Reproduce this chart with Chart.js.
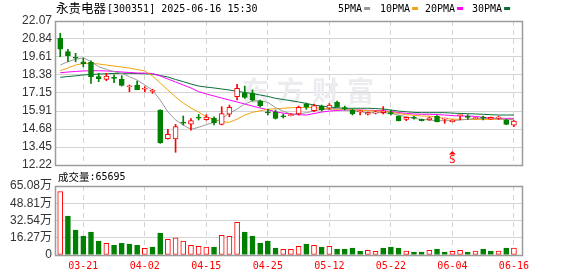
<!DOCTYPE html>
<html>
<head>
<meta charset="utf-8">
<script src="https://cdn.jsdelivr.net/npm/chart.js@4.4.1/dist/chart.umd.min.js"></script>
<style>
  body { margin: 0; background: #fff; }
  #wrap { position: relative; width: 578px; height: 276px; overflow: hidden; }
  canvas { position: absolute; left: 0; }
  #kline { top: 0; }
  #vol { top: 166px; }
</style>
</head>
<body>
<div id="wrap">
  <canvas id="kline" width="578" height="176"></canvas>
  <canvas id="vol" width="578" height="110"></canvas>
</div>
<script>
// trading days shown
const dates = ['03-18','03-19','03-20','03-21','03-24','03-25','03-26','03-27','03-28','03-31',
  '04-01','04-02','04-03','04-07','04-08','04-09','04-10','04-11','04-14','04-15',
  '04-16','04-17','04-18','04-21','04-22','04-23','04-24','04-25','04-28','04-29',
  '04-30','05-06','05-07','05-08','05-09','05-12','05-13','05-14','05-15','05-16',
  '05-19','05-20','05-21','05-22','05-23','05-26','05-27','05-28','05-29','05-30',
  '06-03','06-04','06-05','06-06','06-09','06-10','06-11','06-12','06-13','06-16'];

const openP  = [20.89,19.97,19.58,19.28,19.24,18.26,18.08,18.22,18.08,17.57,17.69,17.40,17.26,15.98,14.02,14.00,15.15,15.02,15.47,15.32,
  15.41,15.00,15.70,16.89,17.12,17.12,16.60,15.86,15.86,15.57,15.60,15.71,16.39,15.93,16.25,16.10,16.51,16.12,15.98,15.86,
  15.69,15.77,15.80,15.77,15.57,15.34,15.48,15.34,15.30,15.57,15.36,15.18,15.60,15.52,15.39,15.48,15.36,15.43,15.30,14.95];
const highP  = [21.23,20.13,19.86,19.52,19.35,18.49,18.49,18.38,18.33,17.69,17.96,17.58,17.40,16.00,14.66,15.00,15.57,15.39,15.68,15.66,
  15.52,16.21,16.32,17.74,17.62,17.35,16.66,16.05,15.98,15.71,15.74,16.25,16.46,16.39,16.32,16.43,16.60,16.25,16.05,15.93,
  15.84,15.91,16.21,15.98,15.60,15.50,15.55,15.36,15.50,15.60,15.43,15.32,15.66,15.66,15.48,15.57,15.50,15.57,15.34,15.25];
const lowP   = [19.63,19.28,19.28,18.94,17.80,17.92,17.99,17.85,17.62,17.23,17.37,17.23,17.12,13.70,13.98,13.09,14.96,14.61,15.30,15.28,
  14.96,14.96,15.52,16.67,16.78,16.60,16.19,15.64,15.36,15.43,15.57,15.64,16.03,15.86,15.91,16.03,16.17,15.98,15.64,15.64,
  15.64,15.71,15.71,15.64,15.23,15.25,15.36,15.23,15.27,15.16,15.07,15.16,15.30,15.34,15.36,15.30,15.34,15.34,14.98,14.84];
const closeP = [20.15,19.70,19.52,19.15,18.26,18.12,18.31,18.15,17.67,17.62,17.37,17.44,17.30,13.74,14.32,14.84,15.08,15.25,15.43,15.50,
  15.11,15.73,16.17,17.46,16.85,16.66,16.28,15.79,15.41,15.52,15.67,16.17,16.17,16.28,15.98,16.32,16.21,16.08,15.71,15.91,
  15.80,15.86,15.93,15.73,15.25,15.48,15.43,15.25,15.45,15.18,15.41,15.30,15.64,15.48,15.45,15.43,15.48,15.48,15.00,15.23];

const ma5  = [19.06,19.29,19.45,19.56,19.29,18.94,18.76,18.60,18.49,18.26,18.03,17.69,17.35,16.66,15.86,15.30,14.95,14.66,14.80,14.98,
  15.14,15.41,15.75,16.05,16.40,16.60,16.62,16.50,16.15,15.90,15.71,15.71,15.80,15.91,16.03,16.03,16.10,16.03,15.93,15.86,
  15.80,15.80,15.80,15.75,15.64,15.52,15.41,15.34,15.30,15.25,15.25,15.25,15.30,15.34,15.41,15.41,15.41,15.36,15.34,15.30];
const ma10 = [18.67,18.85,19.06,19.16,19.18,19.13,19.06,18.99,18.92,18.85,18.75,18.65,18.31,17.83,17.35,16.87,16.46,16.12,15.84,15.52,
  15.34,15.18,15.14,15.36,15.64,15.82,15.93,16.03,16.07,16.10,16.14,16.16,16.16,16.14,16.10,16.05,16.03,16.03,15.98,15.98,
  15.93,15.91,15.89,15.82,15.75,15.66,15.62,15.57,15.57,15.48,15.41,15.36,15.34,15.34,15.34,15.34,15.34,15.36,15.34,15.34];
const ma20 = [18.53,18.58,18.62,18.65,18.67,18.67,18.65,18.62,18.58,18.55,18.51,18.51,18.48,18.31,18.10,17.90,17.69,17.49,17.23,17.08,
  16.94,16.80,16.66,16.53,16.39,16.25,16.12,16.00,15.86,15.77,15.71,15.66,15.64,15.74,15.84,15.91,15.95,15.98,15.98,15.98,
  15.96,15.95,15.93,15.88,15.81,15.75,15.71,15.69,15.69,15.67,15.64,15.60,15.57,15.57,15.54,15.48,15.43,15.41,15.41,15.41];
const ma30 = [18.22,18.27,18.32,18.38,18.41,18.44,18.46,18.48,18.49,18.49,18.48,18.46,18.44,18.34,18.24,18.07,17.92,17.76,17.62,17.55,
  17.49,17.42,17.35,17.26,17.18,17.11,17.01,16.91,16.78,16.70,16.62,16.53,16.43,16.32,16.25,16.18,16.14,16.10,16.10,16.10,
  16.10,16.08,16.05,15.98,15.91,15.86,15.82,15.80,15.80,15.80,15.80,15.77,15.75,15.73,15.71,15.69,15.66,15.64,15.64,15.64];

// volume in lots, 1 = up day (red hollow), 0 = down day (green)
const volume = [597000,368000,236000,179000,217000,132000,110000,91000,110000,104000,91000,63000,75000,207000,148000,163000,132000,92000,82000,75000,
  75000,186000,176000,308000,217000,179000,113000,132000,66000,53000,53000,82000,104000,91000,75000,82000,57000,57000,66000,38000,
  44000,35000,66000,75000,66000,38000,28000,28000,44000,57000,28000,35000,44000,28000,38000,57000,38000,38000,66000,65695];
const volUp = [1,0,0,0,0,0,1,0,0,0,0,1,0,0,1,1,1,1,1,1,
  0,1,1,1,0,0,0,0,0,1,1,1,0,1,0,1,0,0,0,0,
  1,1,0,0,0,1,0,0,1,0,0,1,1,0,1,0,0,1,0,1];

const dateTicks = ['03-21','04-02','04-15','04-25','05-12','05-22','06-04','06-16'];
const priceTicks = ['22.07','20.84','19.61','18.38','17.15','15.91','14.68','13.45','12.22'];
const volTickVals = [0, 162700, 325400, 488100, 650800];
const volTickText = ['0','16.27万','32.54万','48.81万','65.08万'];
const maNames = ['5PMA','10PMA','20PMA','30PMA'];
const maColors = ['#9a9a9a','#f0a30a','#ff00ff','#0b6f3a'];
const markIdx = dates.indexOf('06-04');

const RED = '#ff0000', GREEN = '#008000';
const tickIdx = dateTicks.map(d => dates.indexOf(d));

function xScaleOpts(showLabels) {
  return {
    type: 'linear', min: -0.68, max: 60.05, offset: false,
    afterBuildTicks: s => { s.ticks = tickIdx.map(v => ({ value: v })); },
    grid: { color: '#d4d4d4', lineWidth: 1, drawTicks: false, offset: false },
    border: { display: false, dash: [5, 4] },
    ticks: {
      display: showLabels, autoSkip: false, maxRotation: 0, padding: 5,
      color: RED, font: { family: 'DejaVu Sans Mono', size: 10 },
      callback: v => dates[v]
    },
    afterFit: s => { s.height = showLabels ? 21 : 0; }
  };
}

const frame = {
  id: 'frame',
  afterDraw(chart) {
    const { ctx, chartArea: a } = chart;
    ctx.save();
    ctx.strokeStyle = '#9c9c9c';
    ctx.lineWidth = 1.5;
    ctx.strokeRect(a.left + 0.5, a.top + 0.5, a.right - a.left, a.bottom - a.top);
    ctx.restore();
  }
};

const klineDeco = {
  id: 'klineDeco',
  beforeDatasetsDraw(chart) {
    const ctx = chart.ctx;
    ctx.save();
    ctx.fillStyle = '#ececf0';
    ctx.font = 'bold 27px "Noto Sans CJK SC"';
    ctx.textBaseline = 'middle';
    const wm = '东方财富';
    for (let k = 0; k < wm.length; k++) ctx.fillText(wm[k], 242 + k * 35, 91);
    ctx.restore();
  },
  afterDraw(chart) {
    const ctx = chart.ctx;
    ctx.save();
    ctx.textBaseline = 'middle';
    ctx.fillStyle = '#000';
    ctx.font = '12.5px "Noto Sans CJK SC"';
    ctx.fillText('永贵电器', 56, 8.5);
    ctx.font = '10px "DejaVu Sans Mono"';
    ctx.fillText('[300351] 2025-06-16 15:30', 107, 9);

    // MA legend
    const lx = [338, 380, 425, 472];
    maNames.forEach((n, k) => {
      ctx.fillStyle = '#000';
      ctx.fillText(n, lx[k], 9);
      const w = ctx.measureText(n).width;
      ctx.fillStyle = maColors[k];
      ctx.fillRect(lx[k] + w + 2, 7, 6, 3);
    });

    // event marker
    const x = chart.scales.x.getPixelForValue(markIdx);
    const y0 = chart.chartArea.bottom;
    ctx.fillStyle = RED;
    ctx.strokeStyle = RED;
    ctx.beginPath();
    ctx.moveTo(x, y0 - 14);
    ctx.lineTo(x + 3.5, y0 - 10.5);
    ctx.lineTo(x - 3.5, y0 - 10.5);
    ctx.closePath();
    ctx.fill();
    ctx.font = '11px "DejaVu Sans Mono"';
    ctx.textAlign = 'center';
    ctx.fillText('S', x, y0 - 4.5);
    ctx.restore();
  }
};

const volDeco = {
  id: 'volDeco',
  afterDraw(chart) {
    const ctx = chart.ctx;
    ctx.save();
    ctx.textBaseline = 'middle';
    ctx.fillStyle = '#000';
    ctx.font = '10.5px "Noto Sans CJK SC"';
    ctx.fillText('成交量', 58, 11);
    const w = ctx.measureText('成交量').width;
    ctx.font = '10px "DejaVu Sans Mono"';
    ctx.fillText(':' + volume[volume.length - 1], 58 + w, 11.5);
    ctx.restore();
  }
};

const isUp = i => closeP[i] >= openP[i];

new Chart(document.getElementById('kline'), {
  type: 'bar',
  data: {
    datasets: [
      {
        type: 'bar', order: 1, grouped: false,
        data: dates.map((d, i) => ({ x: i, y: [openP[i], closeP[i]] })),
        barThickness: 5, minBarLength: 1, borderWidth: 1, borderSkipped: false,
        backgroundColor: dates.map((d, i) => isUp(i) ? '#ffffff' : GREEN),
        borderColor: dates.map((d, i) => isUp(i) ? RED : GREEN)
      },
      {
        type: 'bar', order: 2, grouped: false,
        data: dates.map((d, i) => ({ x: i, y: [lowP[i], highP[i]] })),
        barThickness: 1, minBarLength: 1, borderWidth: 0,
        backgroundColor: dates.map((d, i) => isUp(i) ? RED : GREEN)
      },
      ...[ma5, ma10, ma20, ma30].map((arr, k) => ({
        type: 'line', order: 3 + k,
        data: arr.map((v, i) => ({ x: i, y: v })),
        borderColor: maColors[k], borderWidth: 1, pointRadius: 0, tension: 0
      }))
    ]
  },
  options: {
    responsive: false, animation: false, devicePixelRatio: 1,
    layout: { padding: { top: 21, right: 56, bottom: 11, left: 0 } },
    plugins: { legend: { display: false }, tooltip: { enabled: false } },
    scales: {
      x: xScaleOpts(false),
      y: {
        min: 12.22, max: 22.07,
        afterBuildTicks: s => { s.ticks = priceTicks.map(t => ({ value: parseFloat(t) })).reverse(); },
        afterFit: s => { s.width = 55; },
        grid: { color: '#d4d4d4', drawTicks: false },
        border: { display: false },
        ticks: {
          autoSkip: false, padding: 3, color: '#333',
          font: { family: 'Liberation Sans', size: 12 },
          callback: v => priceTicks.find(t => Math.abs(parseFloat(t) - v) < 0.001)
        }
      }
    }
  },
  plugins: [klineDeco, frame]
});

new Chart(document.getElementById('vol'), {
  type: 'bar',
  data: {
    datasets: [{
      grouped: false,
      data: volume.map((v, i) => ({ x: i, y: v })),
      barThickness: 5, borderWidth: 1, borderSkipped: false,
      backgroundColor: volUp.map(u => u ? '#ffffff' : GREEN),
      borderColor: volUp.map(u => u ? RED : GREEN)
    }]
  },
  options: {
    responsive: false, animation: false, devicePixelRatio: 1,
    layout: { padding: { top: 20, right: 56, bottom: 0, left: 0 } },
    plugins: { legend: { display: false }, tooltip: { enabled: false } },
    scales: {
      x: xScaleOpts(true),
      y: {
        min: 0, max: 650800,
        afterBuildTicks: s => { s.ticks = volTickVals.map(v => ({ value: v })); },
        afterFit: s => { s.width = 55; },
        grid: { color: '#d4d4d4', drawTicks: false },
        border: { display: false },
        ticks: {
          autoSkip: false, padding: 3, color: '#333',
          font: { family: '"Liberation Sans", "Noto Sans CJK SC"', size: 12 },
          callback: v => volTickText[volTickVals.indexOf(v)]
        }
      }
    }
  },
  plugins: [volDeco, frame]
});
</script>
</body>
</html>
